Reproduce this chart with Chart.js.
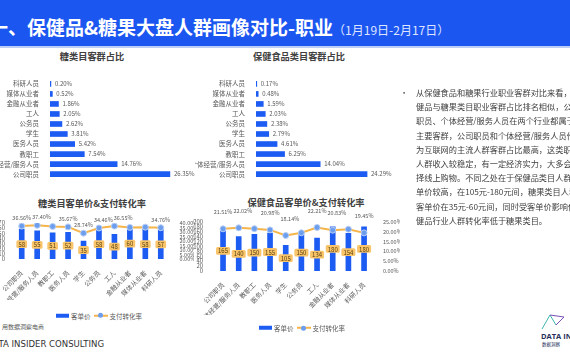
<!DOCTYPE html>
<html><head><meta charset="utf-8">
<script src="https://cdn.jsdelivr.net/npm/chart.js@4.4.0/dist/chart.umd.min.js"></script>
<style>
html,body{margin:0;padding:0;width:570px;height:360px;overflow:hidden;background:#fff;font-family:"Noto Sans CJK SC",sans-serif;}
.abs{position:absolute;}
#header{left:0;top:0;width:570px;height:46px;background:#1c56f0;}
#hline{left:0;top:46px;width:570px;height:2px;background:#bccdf6;}
#title{left:-11px;top:13px;font-size:19px;font-weight:bold;color:#fff;white-space:nowrap;line-height:28px;}
#title span{font-size:12px;font-weight:normal;color:#dfe6ff;}
.ctitle{font-size:9.2px;font-weight:bold;color:#404040;white-space:nowrap;transform:translate(-50%,-50%);line-height:1;}
.legend{display:flex;align-items:center;font-size:6.5px;color:#595959;white-space:nowrap;line-height:1;transform:translateY(-50%);}
.lbar{display:inline-block;width:13px;height:4px;background:#1d5cf3;margin-right:2px;}
.lline{display:inline-block;position:relative;width:14px;height:6px;margin:0 2px 0 3px;}
.lline:before{content:"";position:absolute;left:0;right:0;top:2px;height:2px;background:#f5b54a;}
.lline:after{content:"";position:absolute;left:4.5px;top:0.5px;width:5px;height:5px;border-radius:50%;background:#6d9eee;}
#para{left:400px;top:85px;font-size:8.2px;color:#404040;line-height:14.2px;white-space:nowrap;}
#para .b{position:absolute;left:0;top:0;}
#para .t{position:absolute;left:16px;top:0;}
canvas{position:absolute;}
</style>
</head><body>
<div id="header" class="abs"></div>
<div id="hline" class="abs"></div>
<div id="title" class="abs">一、保健品&amp;糖果大盘人群画像对比-职业<span>（1月19日-2月17日）</span></div>

<div class="ctitle abs" style="left:92px;top:57px;">糖类目客群占比</div>
<div class="ctitle abs" style="left:299px;top:57px;">保健食品类目客群占比</div>
<div class="ctitle abs" style="left:92px;top:204px;">糖类目客单价&amp;支付转化率</div>
<div class="ctitle abs" style="left:306px;top:203px;">保健食品客单价&amp;支付转化率</div>

<canvas id="c1" width="242" height="114" style="left:-10px;top:72px;"></canvas>
<canvas id="c2" width="221" height="114" style="left:195px;top:72px;"></canvas>
<canvas id="c3" width="194" height="100" style="left:0px;top:200px;"></canvas>
<canvas id="c4" width="210" height="115" style="left:190px;top:200px;"></canvas>

<div class="legend abs" style="left:56px;top:315.5px;"><span class="lbar"></span><span>客单价</span><span class="lline"></span><span>支付转化率</span></div>
<div class="legend abs" style="left:259px;top:328px;"><span class="lbar"></span><span>客单价</span><span class="lline"></span><span>支付转化率</span></div>

<div id="para" class="abs">
<span class="b">•</span>
<div class="t">从保健食品和糖果行业职业客群对比来看，保<br>健品与糖果类目职业客群占比排名相似，公司<br>职员、个体经营/服务人员在两个行业都属于<br>主要客群，公司职员和个体经营/服务人员作<br>为互联网的主流人群客群占比最高，这类职业<br>人群收入较稳定，有一定经济实力，大多会选<br>择线上购物。不同之处在于保健品类目人群客<br>单价较高，在105元-180元间，糖果类目人群<br>客单价在35元-60元间，同时受客单价影响保<br>健品行业人群转化率低于糖果类目。</div>
</div>

<div class="abs" style="left:2px;top:322px;font-size:6px;color:#595959;white-space:nowrap;">用数据洞察电商</div>
<div class="abs" style="left:-13px;top:338px;font-size:9.5px;color:#333;white-space:nowrap;font-family:'Liberation Sans Narrow','DejaVu Sans Condensed',sans-serif;">DATA INSIDER CONSULTING</div>

<svg class="abs" style="left:540px;top:313px;" width="26" height="18" viewBox="0 0 26 18">
<polyline points="2,16 10,2 16,12 24,4" fill="none" stroke="#3bb5b0" stroke-width="1"/>
<polyline points="10,2 24,4 16,12" fill="none" stroke="#7a4fb8" stroke-width="1"/>
</svg>
<div class="abs" style="left:541px;top:333px;font-size:7.5px;font-weight:bold;color:#26305a;white-space:nowrap;font-family:'Open Sans',sans-serif;line-height:1;">DATA INSIDER</div>
<div class="abs" style="left:542px;top:342px;font-size:4.5px;color:#26305a;white-space:nowrap;line-height:1;">数据洞察</div>

<script>
// ---------- data ----------
const shareCategories = ['科研人员','媒体从业者','金融从业者','工人','公务员','学生','医务人员','教职工','个体经营/服务人员','公司职员'];
const sugarShare  = [0.20, 0.52, 1.86, 2.05, 2.62, 3.81, 5.42, 7.54, 14.76, 26.35];
const healthShare = [0.17, 0.48, 1.59, 2.03, 2.38, 2.79, 4.61, 6.25, 14.04, 24.29];

const priceCategories = ['公司职员','个体经营/服务人员','教职工','医务人员','学生','公务员','工人','金融从业者','媒体从业者','科研人员'];
const sugarPrice  = [58, 55, 51, 52, 35, 58, 48, 60, 58, 57];
const sugarRate   = [36.56, 37.40, 36.20, 35.67, 28.74, 34.46, 36.55, 35.10, 35.40, 34.76];
const sugarRateLabelled  = [true, true, false, true, true, true, true, false, false, true];
const healthPrice = [165, 140, 150, 155, 105, 150, 134, 180, 154, 180];
const healthRate  = [21.51, 22.02, 21.60, 20.98, 18.14, 19.50, 22.21, 20.83, 21.30, 19.45];
const healthRateLabelled = [true, true, false, true, true, false, true, true, false, true];

const sugarPriceTicks  = [0, 10, 20, 30, 40, 50, 60, 70];
const sugarRateTicks   = [0, 5, 10, 15, 20, 25, 30, 35, 40];
const healthPriceTicks = [0, 20, 40, 60, 80, 100, 120, 140, 160, 180, 200];
const healthRateTicks  = [0, 5, 10, 15, 20, 25];

// ---------- styling ----------
const F = '"Noto Sans CJK SC", sans-serif';
const BLUE = '#1d5cf3';
const GREY = '#595959';
Chart.defaults.font.family = F;

const hbarLabels = {
  id: 'hbarLabels',
  afterDatasetsDraw(chart) {
    const ctx = chart.ctx;
    const meta = chart.getDatasetMeta(0);
    const data = chart.data.datasets[0].data;
    ctx.save();
    ctx.font = '6px ' + F;
    ctx.fillStyle = GREY;
    ctx.textAlign = 'left';
    ctx.textBaseline = 'middle';
    meta.data.forEach((el, i) => ctx.fillText(data[i].toFixed(2) + '%', el.x + 4, el.y));
    ctx.restore();
  }
};

function hbar(id, values, yWidth, xMax) {
  new Chart(document.getElementById(id), {
    type: 'bar',
    data: { labels: shareCategories, datasets: [{ data: values, backgroundColor: BLUE, barThickness: 5 }] },
    options: {
      indexAxis: 'y', responsive: false, animation: false,
      layout: { padding: 0, autoPadding: false },
      plugins: { legend: { display: false }, tooltip: { enabled: false } },
      scales: {
        x: { display: false, min: 0, max: xMax },
        y: {
          grid: { display: false }, border: { display: false },
          ticks: { font: { size: 6.5, family: F }, color: GREY, padding: 3, autoSkip: false },
          afterFit: s => { s.width = yWidth; }
        }
      }
    },
    plugins: [hbarLabels]
  });
}

const comboLabels = {
  id: 'comboLabels',
  afterDatasetsDraw(chart) {
    const ctx = chart.ctx;
    const barDs = chart.data.datasets[0], lineDs = chart.data.datasets[1];
    const barMeta = chart.getDatasetMeta(0), lineMeta = chart.getDatasetMeta(1);
    ctx.save();
    ctx.textAlign = 'center';
    ctx.textBaseline = 'middle';
    ctx.font = '6px ' + F;
    barMeta.data.forEach((el, i) => {
      const t = String(barDs.data[i]);
      const w = Math.max(ctx.measureText(t).width + 4, 10.5), h = 7.8;
      const cx = el.x, cy = (el.y + el.base) / 2;
      ctx.fillStyle = '#f9c46a';
      ctx.beginPath();
      if (ctx.roundRect) ctx.roundRect(cx - w / 2, cy - h / 2, w, h, 1.5); else ctx.rect(cx - w / 2, cy - h / 2, w, h);
      ctx.fill();
      ctx.fillStyle = '#5a430f';
      ctx.fillText(t, cx, cy + 0.3);
    });
    ctx.font = '5.5px ' + F;
    ctx.fillStyle = GREY;
    ctx.textAlign = 'left';
    let prevRight = -Infinity, prevY = null;
    lineMeta.data.forEach((el, i) => {
      if (!lineDs.labelled[i]) return;
      const t = lineDs.data[i].toFixed(2) + '%';
      const w = ctx.measureText(t).width;
      let x = el.x - w / 2;
      const y = el.y - lineDs.labelOffset;
      if (prevY !== null && Math.abs(y - prevY) < 6 && x < prevRight + 1) x = prevRight + 1;
      ctx.fillText(t, x, y);
      prevRight = x + w; prevY = y;
    });
    ctx.restore();
  }
};

function combo(id, prices, rates, labelled, priceTicks, rateTicks, g) {
  const tickFont = { size: 6, family: F };
  new Chart(document.getElementById(id), {
    type: 'bar',
    data: {
      labels: priceCategories,
      datasets: [
        { type: 'bar', label: '客单价', data: prices, backgroundColor: BLUE, barThickness: 5, yAxisID: 'y', order: 1 },
        { type: 'line', label: '支付转化率', data: rates, yAxisID: 'y1', order: 0,
          borderColor: '#f5b54a', borderWidth: 2, tension: 0,
          pointRadius: 3, pointBackgroundColor: '#6d9eee', pointBorderColor: '#b9cff5', pointBorderWidth: 1,
          labelled: labelled, labelOffset: g.labelOffset }
      ]
    },
    options: {
      responsive: false, animation: false,
      layout: { padding: { top: g.padTop, left: 0, right: 0, bottom: 0 }, autoPadding: false },
      plugins: { legend: { display: false }, tooltip: { enabled: false } },
      scales: {
        x: {
          grid: { display: false }, border: { display: false },
          ticks: { font: { size: 6.5, family: F }, color: GREY, minRotation: 45, maxRotation: 45, autoSkip: false, padding: 2 },
          afterFit: s => { s.height = g.xH; }
        },
        y: {
          position: 'left', min: 0, max: priceTicks[priceTicks.length - 1],
          grid: { display: false }, border: { display: false },
          ticks: { font: tickFont, color: GREY, autoSkip: false, padding: g.leftPad },
          afterBuildTicks: s => { s.ticks = priceTicks.map(v => ({ value: v })); },
          afterFit: s => { s.width = g.leftW; }
        },
        y1: {
          position: 'right', min: 0, max: rateTicks[rateTicks.length - 1],
          grid: { display: false }, border: { display: false },
          ticks: { font: { size: 5.5, family: F }, color: GREY, autoSkip: false, padding: 3, callback: v => v.toFixed(2) + '%' },
          afterBuildTicks: s => { s.ticks = rateTicks.map(v => ({ value: v })); },
          afterFit: s => { s.width = g.rightW; }
        }
      }
    },
    plugins: [comboLabels]
  });
}

hbar('c1', sugarShare, 60, 40);
hbar('c2', healthShare, 61, 35);
combo('c3', sugarPrice, sugarRate, sugarRateLabelled, sugarPriceTicks, sugarRateTicks,
      { leftW: 14, rightW: 25.5, padTop: 23, xH: 41, leftPad: 1, labelOffset: 8 });
combo('c4', healthPrice, healthRate, healthRateLabelled, healthPriceTicks, healthRateTicks,
      { leftW: 25.2, rightW: 28.1, padTop: 22, xH: 44, leftPad: 4, labelOffset: 17 });
</script>
</body></html>
